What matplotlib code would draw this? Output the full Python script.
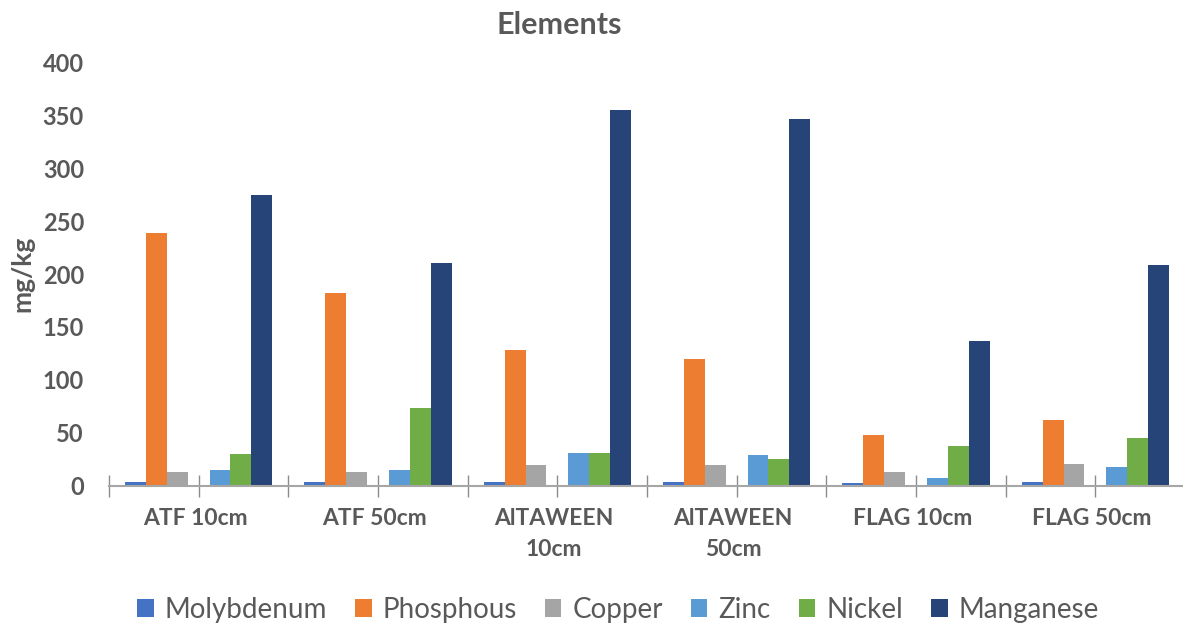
"""Clustered bar chart of element concentrations (mg/kg) per site and depth."""
import matplotlib.pyplot as plt
import matplotlib.transforms as mtransforms
import numpy as np

sites = ["ATF 10cm", "ATF 50cm", "AlTAWEEN\n10cm", "AlTAWEEN\n50cm", "FLAG 10cm", "FLAG 50cm"]
elements = ["Molybdenum", "Phosphous", "Copper", "Zinc", "Nickel", "Manganese"]

molybdenum = [3.5, 3.0, 3.5, 3.7, 2.5, 3.0]
phosphous = [238.5, 182.3, 128.1, 119.3, 47.7, 62.0]
copper = [13.1, 12.5, 19.7, 19.4, 12.5, 20.3]
zinc = [15.0, 14.5, 31.0, 28.7, 6.9, 17.7]
nickel = [30.0, 73.4, 30.7, 25.5, 37.8, 45.0]
manganese = [274.4, 210.0, 355.4, 346.9, 137.0, 208.5]

series = [molybdenum, phosphous, copper, zinc, nickel, manganese]
colors = ["#4472C4", "#ED7D31", "#A5A5A5", "#5B9BD5", "#70AD47", "#264478"]
offsets = [-0.353, -0.236, -0.119, 0.119, 0.236, 0.353]
bar_w = 0.117

text_col = "#595959"
plt.rcParams["font.family"] = ["Lato", "DejaVu Sans"]

fig = plt.figure(figsize=(11.83, 6.31), dpi=100)
ax = fig.add_axes([109 / 1183, 145.5 / 631, 1076 / 1183, 423 / 631])

x = np.arange(len(sites))
for vals, col, off, name in zip(series, colors, offsets, elements):
    ax.bar(x + off, vals, width=bar_w, color=col, label=name, zorder=2)

ax.set_xlim(-0.5, len(sites) - 0.5)
ax.set_ylim(0, 400)
ax.set_yticks(np.arange(0, 401, 50))
ax.tick_params(axis="y", length=0, pad=18, labelsize=17, labelcolor=text_col)
for lbl in ax.get_yticklabels():
    lbl.set_fontweight("bold")

# ticks on every half-category boundary, crossing the axis line
ax.set_xticks(np.arange(-0.5, len(sites), 0.5))
ax.set_xticklabels([])
ax.tick_params(axis="x", direction="inout", length=16, width=1.0, color="#8C8C8C")

for side in ["top", "right", "left"]:
    ax.spines[side].set_visible(False)
ax.spines["bottom"].set_color("#A6A6A6")
ax.spines["bottom"].set_linewidth(1.5)
ax.spines["bottom"].set_zorder(3)

trans = mtransforms.blended_transform_factory(ax.transData, fig.transFigure)
for xi, name in zip(x, sites):
    ax.text(xi - 0.02, 1 - 508 / 631, name, transform=trans, ha="center", va="top",
            fontsize=16.5, fontweight="bold", color=text_col, linespacing=1.6)

fig.text(22 / 1183, 1 - 274 / 631, "mg/kg", rotation=90, ha="center", va="center",
         fontsize=19, fontweight="bold", color=text_col)
fig.text(559 / 1183, 1 - 25 / 631, "Elements", ha="center", va="center",
         fontsize=22, fontweight="bold", color=text_col)

handles, labels = ax.get_legend_handles_labels()
leg = fig.legend(handles, labels, loc="center", bbox_to_anchor=(618 / 1183, 1 - 610 / 631),
                 ncol=6, frameon=False, fontsize=20, handlelength=0.6, handleheight=0.6,
                 handletextpad=0.4, columnspacing=1.0)
for t in leg.get_texts():
    t.set_color(text_col)

fig.savefig("out.png", dpi=100)
plt.close(fig)
